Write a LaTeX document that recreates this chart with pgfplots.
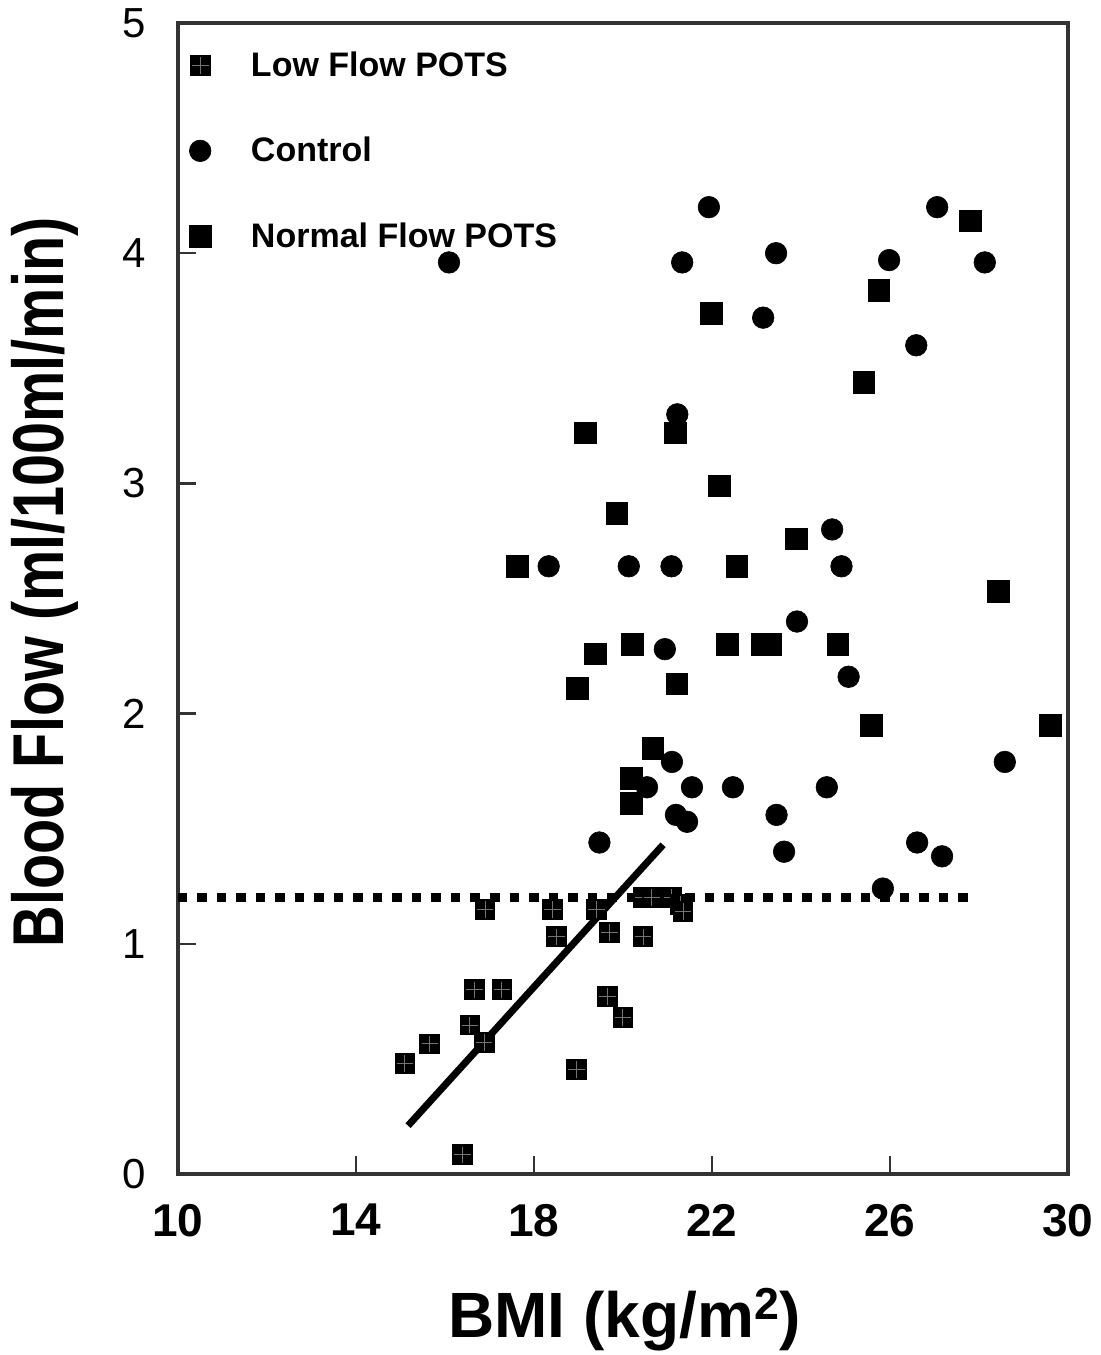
\documentclass[border=0pt]{standalone}
\usepackage{fontspec}
\setmainfont{Liberation Sans}
\newfontfamily\condsans[FakeStretch=0.8]{Liberation Sans}
\usepackage{pgfplots}
\pgfplotsset{compat=1.18}

% black square split in four by thin light lines (low flow POTS)
\pgfdeclareplotmark{lowsq}{%
  \pgfpathrectangle{\pgfqpoint{-\pgfplotmarksize}{-\pgfplotmarksize}}{\pgfqpoint{2\pgfplotmarksize}{2\pgfplotmarksize}}%
  \pgfsetfillcolor{black}\pgfusepathqfill
  \pgfsetstrokecolor{black!55}\pgfsetlinewidth{0.5pt}%
  \pgfpathmoveto{\pgfqpoint{-0.8\pgfplotmarksize}{0pt}}\pgfpathlineto{\pgfqpoint{0.8\pgfplotmarksize}{0pt}}%
  \pgfpathmoveto{\pgfqpoint{0pt}{-0.8\pgfplotmarksize}}\pgfpathlineto{\pgfqpoint{0pt}{0.8\pgfplotmarksize}}%
  \pgfusepathqstroke
}

\begin{document}
\begin{tikzpicture}
\begin{axis}[
    at={(0pt,0pt)}, anchor=south west,
    scale only axis,
    width=445pt, height=575.5pt,
    xmin=10, xmax=30, ymin=0, ymax=5,
    xtick={10,14,18,22,26,30},
    ytick={0,1,2,3,4,5},
    xtick pos=bottom, ytick pos=left,
    tick align=inside,
    major tick length=9pt,
    tick style={line width=1.2pt, black!80},
    axis line style={line width=1.6pt, black!80},
    /pgf/number format/assume math mode=true,
    xticklabel style={font=\fontsize{23}{23}\selectfont\bfseries, yshift=-11.5pt},
    yticklabel style={font=\fontsize{21}{21}\selectfont, xshift=-12.5pt},
    xlabel={BMI (kg/m\textsuperscript{2})},
    ylabel={Blood Flow (ml/100ml/min)},
    x label style={at={(axis description cs:0.502,0)}, anchor=center, yshift=-73pt,
        font=\fontsize{32}{32}\selectfont\bfseries},
    y label style={at={([xshift=-66.5pt]axis description cs:0,0.514)}, anchor=center,
        font=\condsans\fontsize{36}{36}\selectfont\bfseries},
    legend style={at={(axis description cs:0,1)}, anchor=north west,
        xshift=2.5pt, yshift=-10pt, draw=none, fill=none,
        font=\fontsize{17}{17}\selectfont\bfseries, row sep=25pt,
        /tikz/every odd column/.append style={column sep=18pt}},
    legend cell align=left,
    clip=false,
]
% low flow POTS
\addplot[only marks, mark=lowsq, mark size=5.2pt] coordinates {
    (15.10,0.48) (15.66,0.565) (16.40,0.083) (16.56,0.647) (16.67,0.80)
    (16.88,0.57) (17.28,0.80) (16.90,1.15) (18.42,1.15) (18.50,1.03)
    (18.96,0.455) (19.40,1.15) (19.65,0.77) (19.70,1.05) (20.00,0.68)
    (20.45,1.03) (20.45,1.20) (20.65,1.20) (21.10,1.20) (21.30,1.17)
    (21.35,1.14)
};
\addlegendentry{Low Flow POTS}

% control
\addplot[only marks, mark=*, mark size=5.4pt, mark options={fill=black, draw=black, line width=0.3pt}] coordinates {
    (16.09,3.96) (18.33,2.64) (19.47,1.44) (20.13,2.64) (20.54,1.68)
    (20.94,2.28) (21.09,2.64) (21.22,3.30) (21.10,1.79) (21.19,1.56)
    (21.44,1.53) (21.33,3.96) (21.55,1.68) (21.93,4.20) (22.47,1.68)
    (23.15,3.72) (23.44,4.00) (23.45,1.56) (23.62,1.40) (23.91,2.40)
    (24.58,1.68) (24.70,2.80) (24.91,2.64) (25.07,2.16) (25.84,1.24)
    (25.98,3.97) (26.59,3.60) (26.61,1.44) (27.06,4.20) (27.17,1.38)
    (28.13,3.96) (28.58,1.79)
};
\addlegendentry{Control}

% normal flow POTS
\addplot[only marks, mark=square*, mark size=5.4pt, mark options={fill=black, draw=black, line width=0.3pt}] coordinates {
    (17.62,2.64) (18.97,2.11) (19.38,2.26) (19.15,3.22) (19.86,2.87)
    (20.21,2.30) (20.19,1.72) (20.19,1.61) (20.67,1.85) (21.17,3.22)
    (21.21,2.13) (21.98,3.74) (22.17,2.99) (22.56,2.64) (22.34,2.30)
    (23.12,2.30) (23.32,2.30) (23.90,2.76) (24.83,2.30) (25.41,3.44)
    (25.58,1.95) (25.75,3.84) (27.81,4.14) (28.43,2.53) (29.60,1.95)
};
\addlegendentry{Normal Flow POTS}

% regression line for low flow group
\addplot[black, line width=3.5pt, forget plot] coordinates {(15.17,0.21) (20.90,1.43)};
% threshold
\addplot[black, line width=4.5pt, dash pattern=on 4.75pt off 5pt, forget plot] coordinates {(10,1.20) (27.9,1.20)};
\end{axis}
\pgfresetboundingbox
\path[use as bounding box] (-89pt,-90.5pt) rectangle (461.5pt,587pt);
\end{tikzpicture}
\end{document}
